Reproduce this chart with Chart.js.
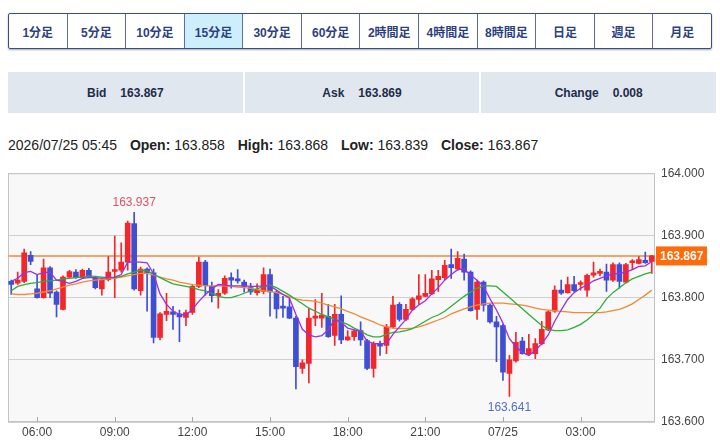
<!DOCTYPE html>
<html lang="ja">
<head>
<meta charset="utf-8">
<script src="https://cdn.jsdelivr.net/npm/chart.js@4.4.1/dist/chart.umd.min.js"></script>
<style>
  body { margin: 0; width: 720px; height: 440px; background: #fff; position: relative; overflow: hidden;
         font-family: Arial, "Liberation Sans", "Noto Sans CJK JP", sans-serif; }
  #tabs { position: absolute; left: 8px; top: 13px; width: 702px; height: 34px; display: flex;
          border: 1px solid #3a4d8f; border-radius: 2px; box-shadow: 0 1px 2px rgba(0,0,0,.35); }
  #tabs div { flex: 1; display: flex; align-items: center; justify-content: center; border-left: 1px solid #5b6da8;
              font-weight: bold; font-size: 12px; color: #2d3f80; }
  #tabs div:first-child { border-left: none; }
  #tabs div.on { background: #cdeffc; }
  #quote { position: absolute; left: 8px; top: 72px; width: 708px; height: 41px; display: flex; gap: 2px; }
  #quote div { flex: 1; background: #e1e7ee; display: flex; align-items: center; justify-content: center;
               font-weight: bold; font-size: 12px; color: #1e2b4a; }
  #quote span { margin-left: 14px; }
  #ohlc { position: absolute; left: 8px; top: 137px; font-size: 14px; color: #222; white-space: nowrap; }
  #ohlc b { margin-left: 9px; }
  #box { position: absolute; left: 0; top: 160px; width: 720px; height: 280px; }
</style>
</head>
<body>
<div id="tabs">
  <div>1分足</div><div>5分足</div><div>10分足</div><div class="on">15分足</div><div>30分足</div><div>60分足</div>
  <div>2時間足</div><div>4時間足</div><div>8時間足</div><div>日足</div><div>週足</div><div>月足</div>
</div>
<div id="quote">
  <div>Bid<span>163.867</span></div>
  <div>Ask<span>163.869</span></div>
  <div>Change<span>0.008</span></div>
</div>
<div id="ohlc">2026/07/25 05:45 <b>Open:</b> 163.858 <b>High:</b> 163.868 <b>Low:</b> 163.839 <b>Close:</b> 163.867</div>
<div id="box"><canvas id="chart"></canvas></div>

<script>
// 15分足 07/24 05:00 - 07/25 05:45
const opens = [163.826,163.823,163.826,163.868,163.814,163.800,163.848,163.809,163.781,163.833,
  163.841,163.832,163.844,163.831,163.814,163.829,163.842,163.844,163.857,163.919,
  163.811,163.846,163.840,163.736,163.773,163.777,163.774,163.768,163.776,163.818,
  163.857,163.818,163.803,163.807,163.832,163.829,163.825,163.816,163.808,163.810,
  163.837,163.809,163.786,163.785,163.767,163.686,163.694,163.767,163.767,163.770,
  163.739,163.773,163.732,163.737,163.747,163.731,163.686,163.726,163.723,163.753,
  163.789,163.765,163.781,163.797,163.802,163.806,163.829,163.832,163.853,163.846,
  163.862,163.841,163.781,163.825,163.788,163.761,163.755,163.678,163.698,163.730,
  163.710,163.710,163.726,163.748,163.778,163.812,163.808,163.821,163.821,163.812,
  163.836,163.839,163.841,163.828,163.853,163.825,163.856,163.855,163.860,163.858]
const highs = [163.828,163.841,163.878,163.874,163.836,163.862,163.850,163.811,163.835,163.844,
  163.845,163.846,163.847,163.832,163.830,163.866,163.899,163.888,163.923,163.937,
  163.849,163.848,163.846,163.776,163.807,163.786,163.780,163.780,163.821,163.865,
  163.860,163.825,163.813,163.835,163.840,163.845,163.828,163.823,163.822,163.848,
  163.846,163.811,163.802,163.798,163.770,163.700,163.783,163.797,163.807,163.789,
  163.789,163.803,163.747,163.748,163.761,163.733,163.729,163.730,163.757,163.802,
  163.792,163.789,163.800,163.837,163.837,163.844,163.844,163.860,163.878,163.874,
  163.870,163.843,163.828,163.827,163.790,163.770,163.757,163.707,163.744,163.736,
  163.741,163.734,163.762,163.779,163.819,163.828,163.833,163.834,163.827,163.838,
  163.857,163.846,163.854,163.856,163.856,163.855,163.861,163.866,163.873,163.868]
const lows = [163.805,163.821,163.824,163.853,163.799,163.799,163.800,163.769,163.780,163.832,
  163.831,163.831,163.832,163.814,163.804,163.827,163.800,163.841,163.844,163.812,
  163.804,163.778,163.727,163.732,163.763,163.749,163.729,163.755,163.773,163.816,
  163.804,163.793,163.783,163.805,163.815,163.823,163.809,163.805,163.804,163.806,
  163.770,163.767,163.768,163.766,163.653,163.678,163.663,163.755,163.752,163.736,
  163.723,163.726,163.731,163.731,163.723,163.684,163.672,163.707,163.710,163.751,
  163.762,163.763,163.779,163.789,163.801,163.805,163.810,163.829,163.831,163.844,
  163.828,163.778,163.765,163.778,163.759,163.697,163.667,163.641,163.696,163.709,
  163.707,163.702,163.724,163.747,163.776,163.805,163.807,163.809,163.812,163.802,
  163.833,163.835,163.810,163.826,163.815,163.823,163.845,163.854,163.855,163.839]
const closes = [163.821,163.828,163.872,163.858,163.800,163.848,163.807,163.789,163.833,163.842,
  163.832,163.844,163.833,163.816,163.828,163.841,163.845,163.857,163.920,163.814,
  163.846,163.840,163.736,163.774,163.778,163.773,163.769,163.776,163.818,163.857,
  163.819,163.803,163.807,163.831,163.828,163.827,163.818,163.809,163.812,163.837,
  163.809,163.782,163.783,163.767,163.689,163.695,163.767,163.770,163.772,163.737,
  163.773,163.732,163.737,163.746,163.732,163.686,163.726,163.722,163.753,163.788,
  163.765,163.781,163.798,163.803,163.807,163.830,163.834,163.852,163.848,163.863,
  163.841,163.779,163.825,163.788,163.761,163.753,163.680,163.700,163.728,163.710,
  163.718,163.726,163.749,163.777,163.812,163.807,163.821,163.811,163.824,163.836,
  163.840,163.841,163.828,163.853,163.826,163.853,163.858,163.861,163.856,163.867]

// 移動平均 (紫・緑・橙)
const maShort = [163.826,163.831,163.840,163.842,163.837,163.840,163.841,163.828,163.826,163.823,
  163.826,163.831,163.832,163.832,163.831,163.832,163.833,163.837,163.857,163.857,
  163.857,163.856,163.838,163.806,163.789,163.778,163.773,163.772,163.781,163.794,
  163.805,163.814,163.821,163.820,163.819,163.819,163.819,163.818,163.818,163.819,
  163.819,163.812,163.805,163.799,163.773,163.749,163.740,163.737,163.739,163.748,
  163.765,163.760,163.751,163.748,163.746,163.730,163.726,163.726,163.726,163.741,
  163.753,163.765,163.780,163.788,163.795,163.806,163.816,163.828,163.837,163.845,
  163.846,163.836,163.828,163.818,163.798,163.780,163.759,163.734,163.721,163.712,
  163.707,163.715,163.726,163.740,163.762,163.780,163.797,163.808,163.815,163.820,
  163.827,163.831,163.835,163.838,163.839,163.841,163.845,163.850,163.851,163.858]
const maMid = [163.811,163.818,163.821,163.823,163.824,163.826,163.827,163.828,163.830,163.831,
  163.832,163.833,163.835,163.834,163.833,163.832,163.832,163.834,163.838,163.841,
  163.844,163.843,163.838,163.832,163.827,163.822,163.820,163.818,163.816,163.813,
  163.811,163.807,163.802,163.800,163.800,163.803,163.807,163.811,163.814,163.818,
  163.820,163.816,163.810,163.804,163.797,163.790,163.783,163.778,163.773,163.769,
  163.765,163.761,163.757,163.751,163.746,163.740,163.737,163.737,163.741,163.744,
  163.745,163.747,163.750,163.756,163.762,163.768,163.772,163.778,163.786,163.794,
  163.802,163.809,163.815,163.819,163.819,163.818,163.809,163.800,163.791,163.782,
  163.773,163.764,163.755,163.749,163.747,163.747,163.748,163.752,163.757,163.764,
  163.773,163.783,163.798,163.808,163.816,163.824,163.830,163.834,163.838,163.841]
const maLong = [163.806,163.805,163.805,163.806,163.807,163.809,163.811,163.814,163.817,163.820,
  163.822,163.825,163.827,163.828,163.829,163.830,163.831,163.833,163.835,163.837,
  163.839,163.839,163.836,163.833,163.830,163.828,163.825,163.823,163.821,163.820,
  163.819,163.819,163.819,163.819,163.818,163.817,163.816,163.815,163.813,163.811,
  163.810,163.808,163.805,163.801,163.798,163.796,163.795,163.794,163.791,163.788,
  163.785,163.782,163.778,163.774,163.769,163.765,163.761,163.756,163.753,163.751,
  163.750,163.750,163.751,163.753,163.756,163.760,163.764,163.768,163.774,163.778,
  163.782,163.785,163.788,163.790,163.791,163.791,163.791,163.790,163.789,163.788,
  163.786,163.783,163.781,163.780,163.779,163.778,163.777,163.776,163.776,163.776,
  163.776,163.776,163.777,163.779,163.781,163.785,163.790,163.797,163.804,163.812]

const tickLabels = ['06:00', '09:00', '12:00', '15:00', '18:00', '21:00', '07/25', '03:00']
const lastPrice = 163.867

// 時刻ラベル
const times = []
for (let i = 0; i < closes.length; i++) {
    const m = (5 * 60 + i * 15) % (24 * 60)
    const hh = String(Math.floor(m / 60)).padStart(2, '0')
    const mm = String(m % 60).padStart(2, '0')
    times.push(m === 0 ? '07/25' : hh + ':' + mm)
}

const upColor = '#f2262b'
const downColor = '#3f4fd4'
const colores = closes.map((c, i) => c >= opens[i] ? upColor : downColor)

const hiIdx = highs.indexOf(Math.max(...highs))
const loIdx = lows.indexOf(Math.min(...lows))

const decor = {
    id: 'decor',
    beforeDraw(chart) {
        const { ctx, chartArea: a } = chart
        ctx.save()
        ctx.fillStyle = '#f8f8f8'
        ctx.fillRect(a.left, a.top, a.right - a.left, a.bottom - a.top)
        ctx.restore()
    },
    beforeDatasetsDraw(chart) {
        const { ctx, chartArea: a, scales: { x, y } } = chart
        ctx.save()
        ctx.strokeStyle = '#c4c4c4'
        ctx.lineWidth = 1
        ctx.strokeRect(a.left + 0.5, a.top + 0.5, a.right - a.left - 1, a.bottom - a.top - 1)
        ctx.strokeStyle = '#a8a8a8'
        times.forEach((t, i) => {
            if (!tickLabels.includes(t)) return
            const px = Math.round(x.getPixelForValue(i)) + 0.5
            ctx.beginPath()
            ctx.moveTo(px, a.bottom - 5)
            ctx.lineTo(px, a.bottom)
            ctx.stroke()
        })
        // 現在値ライン
        const py = y.getPixelForValue(lastPrice)
        ctx.strokeStyle = '#f3a46c'
        ctx.lineWidth = 2
        ctx.beginPath()
        ctx.moveTo(a.left, py)
        ctx.lineTo(a.right, py)
        ctx.stroke()
        ctx.restore()
    },
    afterDraw(chart) {
        const { ctx, chartArea: a, scales: { x, y } } = chart
        ctx.save()
        // 現在値ラベル
        const py = y.getPixelForValue(lastPrice)
        ctx.fillStyle = '#ff6a0a'
        ctx.fillRect(a.right + 1, py - 9.5, 51, 19)
        ctx.fillStyle = '#fff'
        ctx.font = 'bold 12px Arial, "Liberation Sans"'
        ctx.textBaseline = 'middle'
        ctx.textAlign = 'left'
        ctx.fillText(lastPrice.toFixed(3), a.right + 5, py + 0.5)
        // 高値・安値
        ctx.font = '12px Arial, "Liberation Sans"'
        ctx.textAlign = 'center'
        ctx.fillStyle = '#e0506e'
        ctx.textBaseline = 'bottom'
        ctx.fillText(highs[hiIdx].toFixed(3), x.getPixelForValue(hiIdx), y.getPixelForValue(highs[hiIdx]) - 4)
        ctx.fillStyle = '#4f72c2'
        ctx.textBaseline = 'top'
        ctx.fillText(lows[loIdx].toFixed(3), x.getPixelForValue(loIdx), y.getPixelForValue(lows[loIdx]) + 5)
        ctx.restore()
    }
}

const lineaMA = (data, color, order) => ({
    type: 'line', data, borderColor: color, borderWidth: 1.3,
    pointRadius: 0, tension: 0, fill: false, order
})

const grafico = document.getElementById('chart').getContext('2d')
new Chart(grafico, {
    type: 'bar',
    data: {
        labels: times,
        datasets: [
            { data: lows.map((l, i) => [l, highs[i]]), backgroundColor: colores, barThickness: 1, grouped: false, order: 5 },
            { data: opens.map((o, i) => [o, closes[i]]), backgroundColor: colores, barThickness: 5, minBarLength: 2, grouped: false, order: 4 },
            lineaMA(maLong, '#ef8a36', 3),
            lineaMA(maMid, '#30ad3a', 2),
            lineaMA(maShort, '#9a30e0', 1),
        ],
    },
    options: {
        responsive: true,
        maintainAspectRatio: false,
        animation: false,
        layout: { padding: { left: 8, top: 7, right: 0, bottom: 0 } },
        plugins: { legend: { display: false }, tooltip: { enabled: false } },
        scales: {
            x: {
                grid: { display: false, drawTicks: false, tickLength: 0 },
                border: { display: false },
                ticks: {
                    autoSkip: false, maxRotation: 0, padding: 3,
                    color: '#444', font: { size: 12, family: 'Arial, "Liberation Sans"' },
                    callback: (v, i) => tickLabels.includes(times[i]) ? times[i] : null,
                },
                afterFit: (s) => { s.height = 18 },
            },
            y: {
                position: 'right',
                min: 163.6,
                max: 164.0,
                grid: { color: '#cfcfcf', drawTicks: false },
                border: { display: false },
                ticks: {
                    stepSize: 0.1, padding: 6,
                    color: '#444', font: { size: 12, family: 'Arial, "Liberation Sans"' },
                    callback: (v) => v.toFixed(3),
                },
                afterFit: (s) => { s.width = 65 },
            },
        },
    },
    plugins: [decor],
})
</script>
</body>
</html>
